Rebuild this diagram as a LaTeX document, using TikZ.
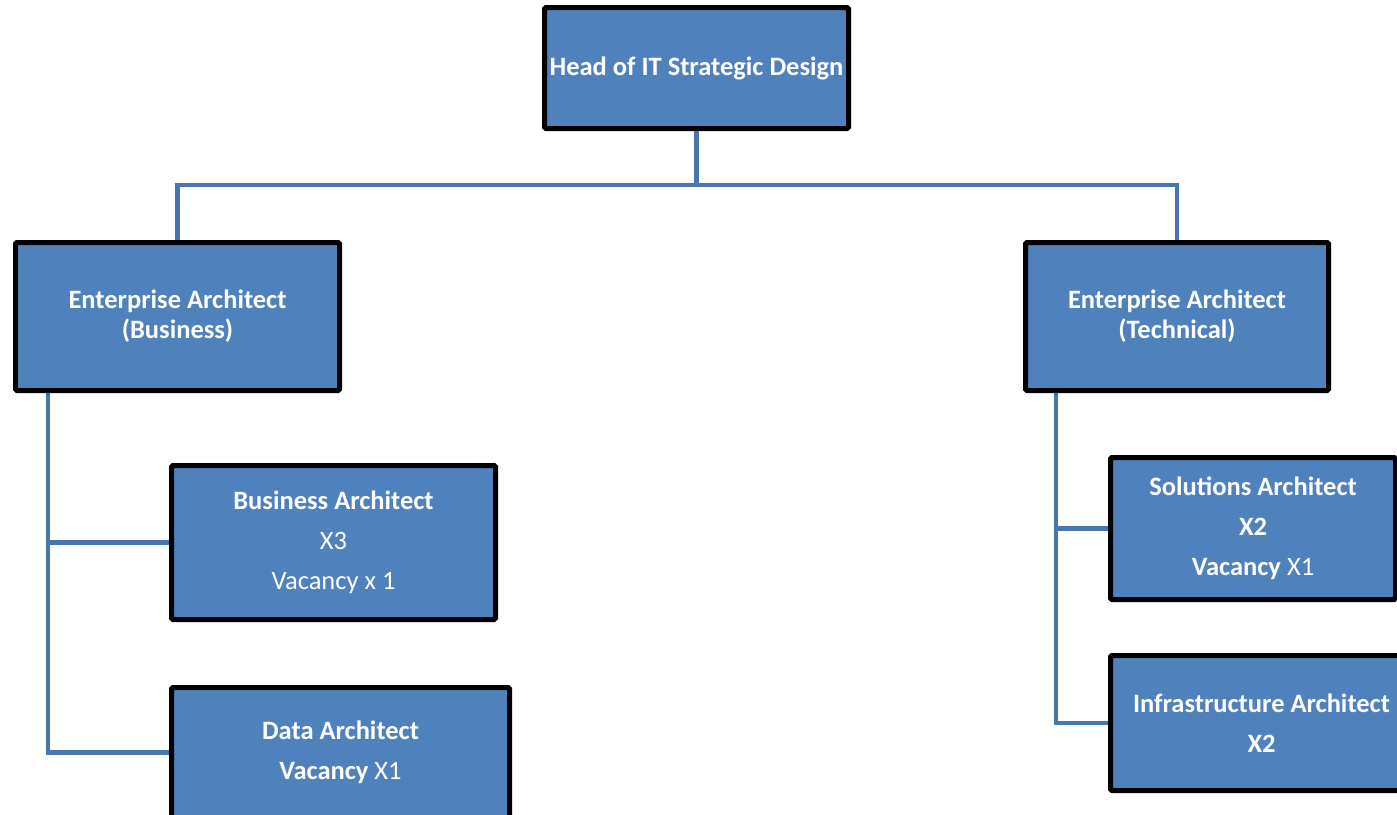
\documentclass[tikz,border=0pt]{standalone}
\usepackage{fontspec}
\setmainfont{Carlito}
\usetikzlibrary{backgrounds}
\definecolor{boxblue}{HTML}{4F81BD}
\definecolor{linkblue}{HTML}{4877B0}
\tikzset{
  orgbox/.style={draw=black, line width=5pt, fill=boxblue, rounded corners=1.5pt,
    text=white, align=center, inner sep=0pt,
    font=\fontsize{26.5}{40}\selectfont},
  twoline/.style={font=\fontsize{26.5}{30}\selectfont},
  link/.style={draw=linkblue, line width=4.5pt}
}
\begin{document}
\begin{tikzpicture}[x=1pt,y=-1pt]
\useasboundingbox (0,0) rectangle (1397,814);
\node[orgbox, minimum width=304pt, minimum height=121pt] (head) at (696.5,68) {\bfseries Head of IT Strategic Design};
\node[orgbox, twoline, minimum width=324pt, minimum height=148pt] (eab) at (177.5,316.5) {\bfseries Enterprise Architect\\\bfseries (Business)};
\node[orgbox, twoline, minimum width=303pt, minimum height=148pt] (eat) at (1177,316.5) {\bfseries Enterprise Architect\\\bfseries (Technical)};
\node[orgbox, minimum width=324pt, minimum height=154pt] (ba) at (333.5,542.5) {\textbf{Business Architect}\\X3\\Vacancy x 1};
\node[orgbox, minimum width=338pt, minimum height=130pt] (da) at (340.5,752.5) {\textbf{Data Architect}\\\textbf{Vacancy} X1};
\node[orgbox, minimum width=285pt, minimum height=142pt] (sa) at (1253,528.5) {\textbf{Solutions Architect}\\\textbf{X2}\\\textbf{Vacancy} X1};
\node[orgbox, minimum width=302pt, minimum height=135pt] (ia) at (1261.5,723) {\textbf{Infrastructure Architect}\\\textbf{X2}};
\coordinate (bus) at (696.5,185);
\coordinate (ltrunk) at (48,393);
\coordinate (rtrunk) at (1056,393);
\begin{scope}[on background layer]
\draw[link] (head) -- (bus);
\draw[link] (eab.north) |- (bus) -| (eat.north);
\draw[link] (ltrunk) |- (da.west);
\draw[link] (ltrunk |- ba.west) -- (ba.west);
\draw[link] (rtrunk) |- (ia.west);
\draw[link] (rtrunk |- sa.west) -- (sa.west);
\end{scope}
\end{tikzpicture}
\end{document}
